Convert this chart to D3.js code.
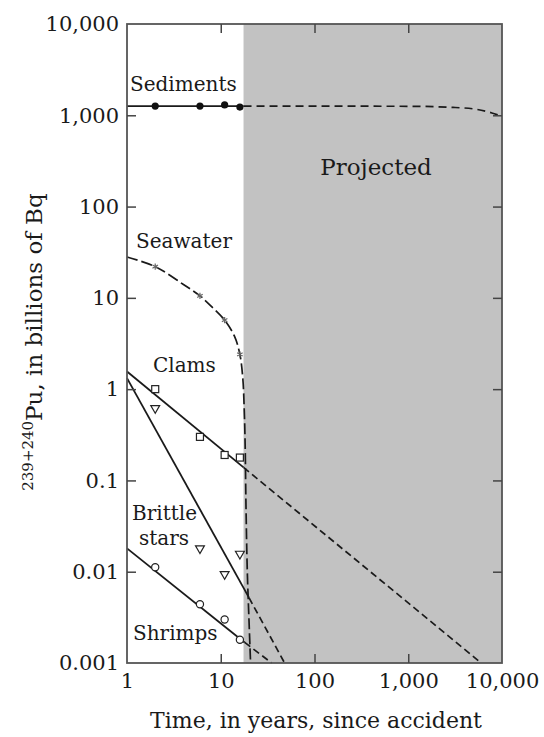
<!DOCTYPE html>
<html>
<head>
<meta charset="utf-8">
<script src="https://cdn.jsdelivr.net/npm/d3@7"></script>
<style>
  body { margin: 0; background: #fff; }
  svg { display: block; font-family: "DejaVu Serif", serif; }
</style>
</head>
<body>
<svg id="chart" width="544" height="737"></svg>
<script>
// sampling years (measured points)
var years = [2, 6, 11, 16];
var sediments = [1260, 1260, 1300, 1230];
var seawater = [22, 10.5, 5.7, 2.4];
var clams = [1.0, 0.30, 0.19, 0.178];
var brittleStars = [0.62, 0.018, 0.0094, 0.0157];
var shrimps = [0.0112, 0.0044, 0.0030, 0.0018];

// fitted / projected curves: [year, value]
var sedimentFit = [[1, 1260], [17.5, 1260]];
var sedimentProj = [[17.5, 1260], [1000, 1255], [3000, 1220], [5400, 1160], [7800, 1060], [9000, 1010]];
var seawaterCurve = [[1, 28], [2, 22], [4, 14], [6, 10.5], [8, 8], [11, 5.7], [14, 3.8], [16, 2.4], [17.2, 1.3], [17.8, 0.6],
                     [18.2, 0.25], [18.6, 0.05], [19.2, 0.01], [20, 0.003], [20.8, 0.001]];
var clamFit = [[1, 1.56], [17.5, 0.139]];
var clamProj = [[17.5, 0.139], [6000, 0.001]];
var brittleFit = [[1, 1.32], [20, 0.0052]];
var brittleProj = [[20, 0.0052], [48, 0.001]];
var shrimpFit = [[1, 0.018], [18, 0.00168]];
var shrimpProj = [[18, 0.00168], [35, 0.001]];

var projectedFrom = 17.5;
var xTicks = [1, 10, 100, 1000, 10000];
var xTickLabels = ["1", "10", "100", "1,000", "10,000"];
var yTicks = [0.001, 0.01, 0.1, 1, 10, 100, 1000, 10000];
var yTickLabels = ["0.001", "0.01", "0.1", "1", "10", "100", "1,000", "10,000"];

var pLeft = 127, pRight = 502, pTop = 24, pBottom = 663;
var svg = d3.select("#chart");

var x = d3.scaleLog().domain([1, 10000]).range([pLeft, pRight]);
var y = d3.scaleLog().domain([0.001, 10000]).range([pBottom, pTop]);

// projected shading
svg.append("rect")
    .attr("x", x(projectedFrom))
    .attr("y", pTop)
    .attr("width", pRight - x(projectedFrom))
    .attr("height", pBottom - pTop)
    .attr("fill", "#c2c2c2");

var line = d3.line()
    .x(function (d) { return x(d[0]); })
    .y(function (d) { return y(d[1]); });
var curve = d3.line()
    .curve(d3.curveMonotoneX)
    .x(function (d) { return x(d[0]); })
    .y(function (d) { return y(d[1]); });

var plot = svg.append("g");

function solid(pts) {
    plot.append("path").attr("d", line(pts))
        .attr("fill", "none").attr("stroke", "#1a1a1a").attr("stroke-width", 1.8);
}
function dashed(pts, dash, gen) {
    plot.append("path").attr("d", (gen || line)(pts))
        .attr("fill", "none").attr("stroke", "#1a1a1a").attr("stroke-width", 1.7)
        .attr("stroke-dasharray", dash || "7,4");
}

solid(sedimentFit);
dashed(sedimentProj, "8,5", curve);
dashed(seawaterCurve, "11,4", d3.line().curve(d3.curveCatmullRom)
    .x(function (d) { return x(d[0]); }).y(function (d) { return y(d[1]); }));
solid(clamFit);
dashed(clamProj);
solid(brittleFit);
dashed(brittleProj);
solid(shrimpFit);
dashed(shrimpProj);

// markers
plot.selectAll(".sed").data(years).enter().append("circle")
    .attr("cx", function (d) { return x(d); })
    .attr("cy", function (d, i) { return y(sediments[i]); })
    .attr("r", 3.6).attr("fill", "#111");

plot.selectAll(".sea").data(years).enter().append("path")
    .attr("transform", function (d, i) { return "translate(" + x(d) + "," + y(seawater[i]) + ")"; })
    .attr("d", d3.symbol(d3.symbolAsterisk, 28))
    .attr("fill", "none").attr("stroke", "#666").attr("stroke-width", 1.2);

plot.selectAll(".clam").data(years).enter().append("rect")
    .attr("x", function (d) { return x(d) - 3.5; })
    .attr("y", function (d, i) { return y(clams[i]) - 3.5; })
    .attr("width", 7).attr("height", 7)
    .attr("fill", "#fff").attr("stroke", "#222").attr("stroke-width", 1.2);

plot.selectAll(".brittle").data(years).enter().append("path")
    .attr("transform", function (d, i) { return "translate(" + x(d) + "," + y(brittleStars[i]) + ") rotate(180)"; })
    .attr("d", d3.symbol(d3.symbolTriangle, 34))
    .attr("fill", "#fff").attr("stroke", "#222").attr("stroke-width", 1.2);

plot.selectAll(".shrimp").data(years).enter().append("circle")
    .attr("cx", function (d) { return x(d); })
    .attr("cy", function (d, i) { return y(shrimps[i]); })
    .attr("r", 3.6)
    .attr("fill", "#fff").attr("stroke", "#222").attr("stroke-width", 1.2);

// frame
svg.append("rect")
    .attr("x", pLeft).attr("y", pTop)
    .attr("width", pRight - pLeft).attr("height", pBottom - pTop)
    .attr("fill", "none").attr("stroke", "#555").attr("stroke-width", 1.8);

// axes with inward ticks
var axisLeft = d3.axisLeft(y).tickValues(yTicks)
    .tickSize(-9).tickPadding(8)
    .tickFormat(function (d, i) { return yTickLabels[i]; });
var gl = svg.append("g").attr("transform", "translate(" + pLeft + ",0)").call(axisLeft);

var axisBottom = d3.axisBottom(x).tickValues(xTicks)
    .tickSize(-9).tickPadding(10)
    .tickFormat(function (d, i) { return xTickLabels[i]; });
var gb = svg.append("g").attr("transform", "translate(0," + pBottom + ")").call(axisBottom);

var gt = svg.append("g").attr("transform", "translate(0," + pTop + ")")
    .call(d3.axisTop(x).tickValues(xTicks.slice(1, -1)).tickSize(-9).tickFormat(""));
var gr = svg.append("g").attr("transform", "translate(" + pRight + ",0)")
    .call(d3.axisRight(y).tickValues(yTicks.slice(1, -1)).tickSize(-9).tickFormat(""));

[gl, gb, gt, gr].forEach(function (g) {
    g.select(".domain").remove();
    g.selectAll(".tick line").attr("stroke", "#444").attr("stroke-width", 1.5);
    g.selectAll(".tick text").attr("fill", "#1a1a1a")
        .style("font-family", "'DejaVu Serif', serif").style("font-size", "21px");
});
gl.selectAll(".tick line").filter(function (d) { return d === 0.001 || d === 10000; }).remove();
gb.selectAll(".tick line").filter(function (d) { return d === 1 || d === 10000; }).remove();

// series labels
var labels = [
    { t: "Sediments", x: 130, y: 91 },
    { t: "Seawater", x: 136, y: 248 },
    { t: "Clams", x: 153, y: 372 },
    { t: "Brittle", x: 132, y: 520 },
    { t: "stars", x: 139, y: 545 },
    { t: "Shrimps", x: 133, y: 640 }
];
svg.selectAll(".lab").data(labels).enter().append("text")
    .attr("x", function (d) { return d.x; })
    .attr("y", function (d) { return d.y; })
    .attr("font-size", 20).attr("fill", "#1a1a1a")
    .text(function (d) { return d.t; });

svg.append("text")
    .attr("x", 376).attr("y", 175)
    .attr("text-anchor", "middle")
    .attr("font-size", 23).attr("fill", "#1a1a1a")
    .text("Projected");

// axis titles
svg.append("text")
    .attr("x", 316).attr("y", 728)
    .attr("text-anchor", "middle")
    .attr("font-size", 22).attr("fill", "#1a1a1a")
    .text("Time, in years, since accident");

var yt = svg.append("text")
    .attr("transform", "translate(42,342) rotate(-90)")
    .attr("text-anchor", "middle")
    .attr("font-size", 23).attr("fill", "#1a1a1a");
yt.append("tspan").attr("font-size", 15).attr("dy", -9).text("239+240");
yt.append("tspan").attr("dy", 9).text("Pu, in billions of Bq");
</script>
</body>
</html>
